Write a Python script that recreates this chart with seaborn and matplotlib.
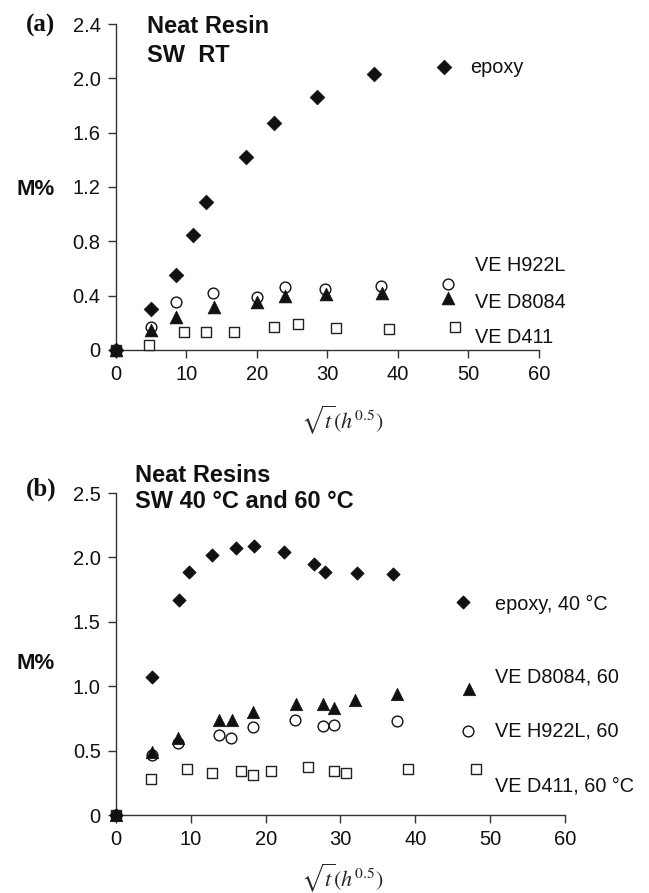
import matplotlib
matplotlib.use('Agg')
import matplotlib.pyplot as plt
import seaborn as sns

sns.set_style('ticks')
plt.rcParams['font.family'] = ['Liberation Sans', 'DejaVu Sans']
plt.rcParams['mathtext.fontset'] = 'stix'

# (a) neat resins in sea water, room temperature
a_epoxy_x = [0, 4.9, 8.5, 10.9, 12.8, 18.4, 22.4, 28.5, 36.6]
a_epoxy_y = [0, 0.30, 0.55, 0.85, 1.09, 1.42, 1.67, 1.86, 2.03]
a_h922_x = [0, 4.9, 8.5, 13.8, 20.0, 24.0, 29.6, 37.6]
a_h922_y = [0, 0.17, 0.35, 0.42, 0.39, 0.46, 0.45, 0.47]
a_d8084_x = [0, 4.9, 8.5, 13.9, 20.0, 24.0, 29.8, 37.7]
a_d8084_y = [0, 0.15, 0.24, 0.32, 0.35, 0.40, 0.41, 0.42]
a_d411_x = [0, 4.7, 9.7, 12.7, 16.7, 22.4, 25.8, 31.2, 38.7]
a_d411_y = [0, 0.04, 0.13, 0.135, 0.135, 0.17, 0.19, 0.16, 0.155]
a_yticks = [0, 0.4, 0.8, 1.2, 1.6, 2.0, 2.4]
a_ylabels = ['0', '0.4', '0.8', '1.2', '1.6', '2.0', '2.4']

# (b) neat resins in sea water, 40 and 60 C
b_epoxy_x = [0, 4.85, 8.4, 9.7, 12.85, 16.1, 18.4, 22.4, 26.4, 28.0, 32.2, 37.0]
b_epoxy_y = [0, 1.07, 1.67, 1.89, 2.02, 2.07, 2.09, 2.04, 1.95, 1.89, 1.88, 1.87]
b_d8084_x = [0, 4.8, 8.35, 13.8, 15.5, 18.3, 24.0, 27.7, 29.2, 32.0, 37.6]
b_d8084_y = [0, 0.49, 0.60, 0.74, 0.74, 0.80, 0.86, 0.86, 0.83, 0.89, 0.94]
b_h922_x = [0, 4.8, 8.35, 13.8, 15.4, 18.3, 23.9, 27.7, 29.2, 37.5]
b_h922_y = [0, 0.47, 0.56, 0.62, 0.595, 0.68, 0.74, 0.69, 0.70, 0.73]
b_d411_x = [0, 4.7, 9.55, 12.8, 16.7, 18.25, 20.7, 25.7, 29.1, 30.8, 39.0]
b_d411_y = [0, 0.28, 0.36, 0.33, 0.34, 0.31, 0.34, 0.37, 0.34, 0.33, 0.357]
b_yticks = [0, 0.5, 1.0, 1.5, 2.0, 2.5]
b_ylabels = ['0', '0.5', '1.0', '1.5', '2.0', '2.5']

xticks = [0, 10, 20, 30, 40, 50, 60]

styles = {
    'epoxy': dict(marker='D', color='#111111', edgecolor='#111111', linewidth=0.5),
    'd8084': dict(marker='^', color='#111111', edgecolor='#111111', linewidth=0.5),
    'h922': dict(marker='o', color='white', edgecolor='#111111', linewidth=1.0),
    'd411': dict(marker='s', color='white', edgecolor='#222222', linewidth=1.0),
}
sizes_a = {'epoxy': 56, 'd8084': 85, 'h922': 60, 'd411': 62}
sizes_b = {'epoxy': 46, 'd8084': 80, 'h922': 60, 'd411': 62}

fig = plt.figure(figsize=(6.49, 8.93), dpi=100)
ax_a = fig.add_axes([0.1787, 0.6081, 0.6518, 0.3650])
ax_b = fig.add_axes([0.1787, 0.0873, 0.6918, 0.3606])


def style_axes(ax, yticks, ylabels):
    ax.set_xlim(0, 60)
    ax.set_ylim(0, yticks[-1])
    ax.set_xticks(xticks)
    ax.set_yticks(yticks)
    ax.set_yticklabels(ylabels)
    ax.set_xlabel('')
    ax.set_ylabel('')
    sns.despine(ax=ax)
    for sp in ['left', 'bottom']:
        ax.spines[sp].set_color('#333333')
        ax.spines[sp].set_linewidth(1.0)
    ax.tick_params(axis='both', length=6, width=1, color='#333333',
                   labelsize=14.5, labelcolor='#111111')
    ax.tick_params(axis='y', pad=5)
    ax.tick_params(axis='x', pad=5)


def draw(ax, xs, ys, key, sizes):
    sns.scatterplot(x=xs, y=ys, ax=ax, s=sizes[key], clip_on=False, zorder=3,
                    **styles[key])


draw(ax_a, a_d411_x, a_d411_y, 'd411', sizes_a)
draw(ax_a, a_h922_x, a_h922_y, 'h922', sizes_a)
draw(ax_a, a_d8084_x, a_d8084_y, 'd8084', sizes_a)
draw(ax_a, a_epoxy_x, a_epoxy_y, 'epoxy', sizes_a)
style_axes(ax_a, a_yticks, a_ylabels)

draw(ax_b, b_d411_x, b_d411_y, 'd411', sizes_b)
draw(ax_b, b_h922_x, b_h922_y, 'h922', sizes_b)
draw(ax_b, b_d8084_x, b_d8084_y, 'd8084', sizes_b)
draw(ax_b, b_epoxy_x, b_epoxy_y, 'epoxy', sizes_b)
style_axes(ax_b, b_yticks, b_ylabels)

# legend keys, placed like the original in-plot labels
keys_a = [('epoxy', 0.775, 0.868, 'epoxy', 0.837, 0.868),
          ('h922', 0.784, 0.202, 'VE H922L', 0.849, 0.258),
          ('d8084', 0.786, 0.160, 'VE D8084', 0.849, 0.147),
          ('d411', 0.801, 0.070, 'VE D411', 0.849, 0.037)]
keys_b = [('epoxy', 0.7735, 0.661, 'epoxy, 40 °C', 0.844, 0.655),
          ('d8084', 0.787, 0.390, 'VE D8084, 60', 0.844, 0.429),
          ('h922', 0.785, 0.261, 'VE H922L, 60', 0.844, 0.261),
          ('d411', 0.802, 0.143, 'VE D411, 60 °C', 0.844, 0.090)]
for ax, keys, sizes in [(ax_a, keys_a, sizes_a), (ax_b, keys_b, sizes_b)]:
    for key, mx, my, label, tx, ty in keys:
        st = styles[key]
        ax.scatter([mx], [my], transform=ax.transAxes, s=sizes[key], marker=st['marker'],
                   c=st['color'], edgecolors=st['edgecolor'], linewidths=st['linewidth'],
                   clip_on=False, zorder=3)
        ax.text(tx, ty, label, transform=ax.transAxes, fontsize=14.3, va='center',
                ha='left', color='#111111')

# titles and labels
title_kw = dict(fontsize=17, fontweight='bold', va='baseline', color='#111111')
fig.text(0.226, 0.963, 'Neat Resin', **title_kw)
fig.text(0.226, 0.9306, 'SW  RT', **title_kw)
fig.text(0.208, 0.4602, 'Neat Resins', **title_kw)
fig.text(0.208, 0.4312, 'SW 40 °C and 60 °C', **title_kw)

for y, tag in [(0.965, '(a)'), (0.4446, '(b)')]:
    fig.text(0.063, y, tag, fontsize=18, fontweight='bold', family='Liberation Serif',
             va='baseline', ha='center', color='#111111')
for y in [0.7816, 0.2508]:
    fig.text(0.0547, y, 'M%', fontsize=16, fontweight='bold', va='baseline', ha='center',
             color='#111111')

xlab = r'$\sqrt{t}\left(h^{0.5}\right)$'
fig.text(0.464, 0.530, xlab, fontsize=16, ha='left', va='center')
fig.text(0.464, 0.017, xlab, fontsize=16, ha='left', va='center')

fig.savefig('out.png', dpi=100, facecolor='white')
